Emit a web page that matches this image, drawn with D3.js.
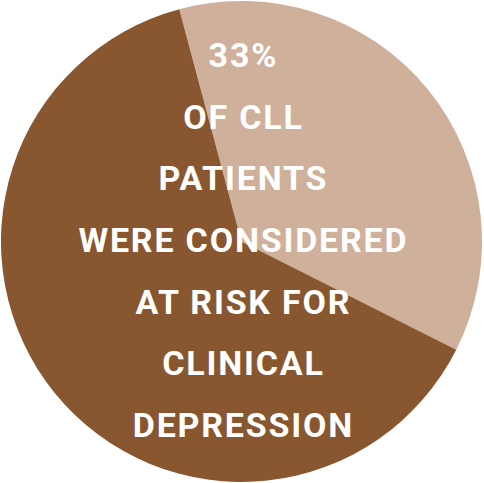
<!DOCTYPE html>
<html>
<head>
<meta charset="utf-8">
<script src="https://cdn.jsdelivr.net/npm/d3@7.9.0/dist/d3.min.js"></script>
<style>
  html, body { margin: 0; padding: 0; background: #fff; }
  svg { display: block; }
</style>
</head>
<body>
<svg id="pie"></svg>
<script>
// slices, as drawn (the label says 33%, the wedge is a bit wider)
const categories = ['at risk', 'not at risk'];
const values = [36.6, 63.4];
const colors = ['#ceb09b', '#88562f'];
const labelLines = ['33%', 'OF CLL', 'PATIENTS', 'WERE CONSIDERED', 'AT RISK FOR', 'CLINICAL', 'DEPRESSION'];

const width = 484;
const height = 483;
const cx = 241.5, cy = 241.5, radius = 240.5;

const svg = d3.select('#pie')
  .attr('width', width)
  .attr('height', height);

const startDeg = -15;
const pie = d3.pie()
  .sort(null)
  .value(d => d)
  .startAngle(startDeg * Math.PI / 180)
  .endAngle((startDeg + 360) * Math.PI / 180);

const arc = d3.arc().innerRadius(0).outerRadius(radius);

const g = svg.append('g').attr('transform', `translate(${cx},${cy})`);

g.selectAll('path')
  .data(pie(values))
  .join('path')
    .attr('d', arc)
    .attr('fill', (d, i) => colors[i]);

// text block
const tracking = 1.8;
const yScale = d3.scaleLinear()
  .domain([0, labelLines.length - 1])
  .range([67, 437]);

svg.append('g')
  .selectAll('text')
  .data(labelLines)
  .join('text')
    .attr('x', 242.5 + tracking / 2)
    .attr('y', (d, i) => yScale(i))
    .attr('text-anchor', 'middle')
    .attr('fill', '#fff')
    .attr('font-family', 'Roboto, sans-serif')
    .attr('font-weight', 'bold')
    .attr('font-size', 34)
    .attr('letter-spacing', tracking)
    .text(d => d);
</script>
</body>
</html>
